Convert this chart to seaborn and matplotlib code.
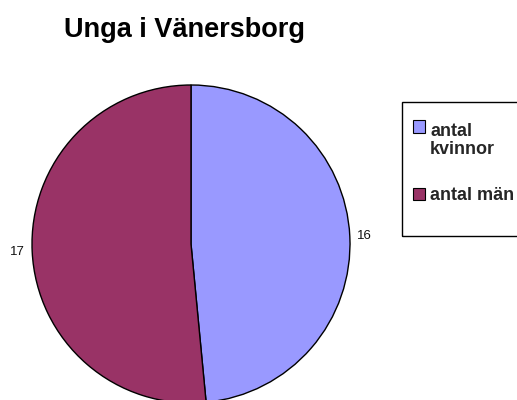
import matplotlib
matplotlib.use("Agg")
import matplotlib.pyplot as plt
import seaborn as sns
from matplotlib.patches import Rectangle
from matplotlib.legend_handler import HandlerPatch

categories = ["antal\nkvinnor", "antal män"]
values = [16, 17]
colors = ["#9999FF", "#993366"]
title = "Unga i Vänersborg"

sns.set_theme(style="white")
plt.rcParams['font.family'] = ['Liberation Sans', 'DejaVu Sans']

W, H = 517, 400
fig = plt.figure(figsize=(W / 100, H / 100), dpi=100)
cx, cy, r = 191, 244, 159
ax = fig.add_axes([(cx - r) / W, (H - cy - r) / H, 2 * r / W, 2 * r / H])
wedges, texts = ax.pie(
    values, colors=colors, startangle=90, counterclock=False,
    labels=[str(v) for v in values], labeldistance=1.045,
    wedgeprops=dict(edgecolor="black", linewidth=1.0),
    textprops=dict(fontsize=9.5, color="#111111"),
)
for w in wedges:
    w.set_clip_on(False)
ax.set_xlim(-1, 1)
ax.set_ylim(-1, 1)
ax.set_aspect("equal")
ax.axis("off")

fig.text(184 / W, 1 - 30 / H, title, ha="center", va="center",
         fontsize=19.5, fontweight="bold", color="black")

LFS = 13


def shifted_patch(legend, orig_handle, xdescent, ydescent, width, height, fontsize):
    return Rectangle((-xdescent, -ydescent + 0.8 * fontsize), width, height)


hmap = {wedges[0]: HandlerPatch(patch_func=shifted_patch)}
leg = fig.legend(wedges, categories, loc="upper left",
                 bbox_to_anchor=(413 / W, 1 - 123 / H),
                 frameon=False,
                 prop=dict(size=LFS, weight="bold"),
                 handlelength=0.67, handleheight=0.67, handletextpad=0.28,
                 labelspacing=1.6, borderpad=0, borderaxespad=0,
                 handler_map=hmap)
for h in leg.legend_handles:
    h.set_linewidth(0.8)
    h.set_edgecolor("black")
for t in leg.get_texts():
    t.set_linespacing(1.1)

# legend frame box (extends past the right edge like the original)
fig.patches.append(Rectangle((402 / W, 1 - 236 / H), 130 / W, 134 / H,
                             transform=fig.transFigure, fill=False,
                             edgecolor="black", linewidth=1.0, clip_on=False))

fig.savefig("out.png", dpi=100)
